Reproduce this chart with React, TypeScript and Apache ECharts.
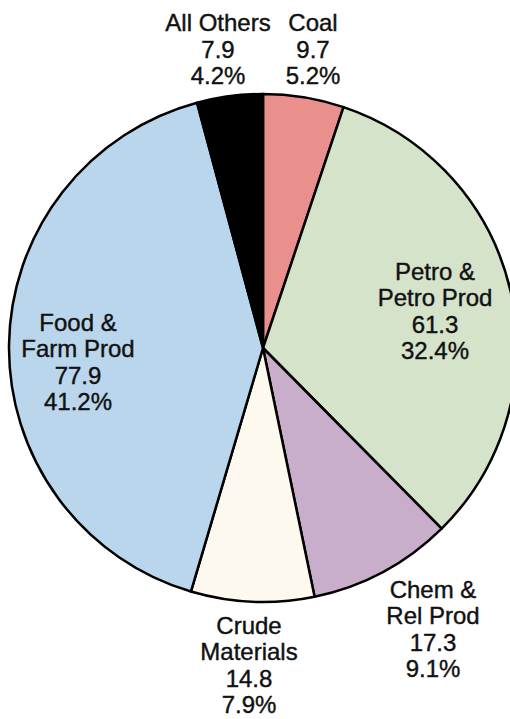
import React, { useEffect, useRef } from "react";
import * as echarts from "echarts";

const categories = ["Coal", "Petro &\nPetro Prod", "Chem &\nRel Prod", "Crude\nMaterials", "Food &\nFarm Prod", "All Others"];
const values = [9.7, 61.3, 17.3, 14.8, 77.9, 7.9];
const percents = ["5.2%", "32.4%", "9.1%", "7.9%", "41.2%", "4.2%"];
const colors = ["#E98F8C", "#D5E3CA", "#C8AECA", "#FDF9EE", "#BAD6EC", "#000000"];
const labelPos: [number, number][] = [
  [313, 49],
  [435, 311],
  [433, 629],
  [249, 665],
  [78, 362],
  [218, 49],
];

export default function App() {
  const ref = useRef<HTMLDivElement>(null);
  useEffect(() => {
    if (!ref.current) return;
    const chart = echarts.init(ref.current, null, { renderer: "svg" });
    chart.setOption({
      animation: false,
      backgroundColor: "#ffffff",
      series: [
        {
          type: "pie",
          center: [263, 348],
          radius: 254,
          startAngle: 90,
          clockwise: true,
          avoidLabelOverlap: false,
          itemStyle: { borderColor: "#000000", borderWidth: 2.5 },
          emphasis: { disabled: true },
          label: {
            show: true,
            position: "inside",
            fontFamily: "Liberation Sans, Arial, sans-serif",
            fontSize: 24,
            lineHeight: 26.5,
            color: "#111111",
            textBorderColor: "#111111",
            textBorderWidth: 0.4,
            align: "center",
            verticalAlign: "middle",
            formatter: (p: any) => `${categories[p.dataIndex]}\n${values[p.dataIndex]}\n${percents[p.dataIndex]}`,
          },
          labelLine: { show: false },
          labelLayout: (p: any) => ({
            x: labelPos[p.dataIndex][0],
            y: labelPos[p.dataIndex][1],
            align: "center",
            verticalAlign: "middle",
          }),
          data: categories.map((c, i) => ({
            name: c,
            value: values[i],
            itemStyle: { color: colors[i] },
          })),
        },
      ],
    });
    return () => chart.dispose();
  }, []);
  return <div ref={ref} style={{ position: "fixed", left: 0, top: 0, width: 510, height: 719 }} />;
}
